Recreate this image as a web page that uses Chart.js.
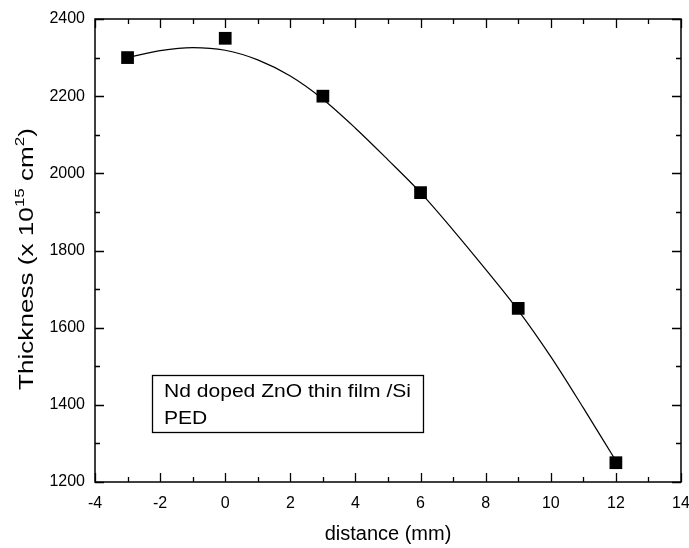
<!DOCTYPE html>
<html>
<head>
<meta charset="utf-8">
<script src="https://cdn.jsdelivr.net/npm/chart.js@4/dist/chart.umd.min.js"></script>
<style>
  html, body { margin: 0; padding: 0; background: #fff; }
</style>
</head>
<body>
<canvas id="chart" width="689" height="548"></canvas>
<script>
// measured points
const distance = [-3, 0, 3, 6, 9, 12];
const thickness = [2300, 2350, 2200, 1950, 1650, 1250];

// fitted curve
const fitDistance = [-3, -2, -1, 0, 1, 2, 3, 4, 5, 6, 7, 8, 9, 10, 11, 12];
const fitThickness = [2300, 2318, 2326, 2319, 2294, 2252, 2192, 2117, 2035, 1950, 1853, 1751, 1645, 1525, 1392, 1255];

const xMin = -4, xMax = 14, xStep = 2;
const yMin = 1200, yMax = 2400, yStep = 200;

const noteLines = ["Nd doped ZnO thin film /Si", "PED"];

const FONT = '"Liberation Sans", Arial, sans-serif';

const framePlugin = {
  id: "frame",
  afterDraw(chart) {
    const { ctx, chartArea: a, scales } = chart;
    const xs = scales.x, ys = scales.y;
    ctx.save();
    ctx.strokeStyle = "#000";
    ctx.lineWidth = 1.5;
    ctx.strokeRect(a.left, a.top, a.right - a.left, a.bottom - a.top);

    // inward ticks on all four sides (major + minor)
    ctx.lineWidth = 1.3;
    ctx.beginPath();
    for (let v = xMin; v <= xMax; v += 1) {
      const px = Math.round(xs.getPixelForValue(v)) + 0.5;
      const len = v % xStep === 0 ? 9 : 5;
      ctx.moveTo(px, a.bottom); ctx.lineTo(px, a.bottom - len);
      ctx.moveTo(px, a.top); ctx.lineTo(px, a.top + len);
    }
    for (let v = yMin; v <= yMax; v += yStep / 2) {
      const py = Math.round(ys.getPixelForValue(v)) + 0.5;
      const len = v % yStep === 0 ? 9 : 5;
      ctx.moveTo(a.left, py); ctx.lineTo(a.left + len, py);
      ctx.moveTo(a.right, py); ctx.lineTo(a.right - len, py);
    }
    ctx.stroke();

    // note box (text is a little wider than tall in the original)
    const sx = 1.17;
    ctx.fillStyle = "#000";
    ctx.font = "18px " + FONT;
    const tw = ctx.measureText(noteLines[0]).width * sx;
    const bx = 152.5, by = 375.5, bw = tw + 24, bh = 57;
    ctx.lineWidth = 1.3;
    ctx.strokeRect(bx, by, bw, bh);
    ctx.save();
    ctx.translate(164, 0);
    ctx.scale(sx, 1);
    ctx.textBaseline = "middle";
    ctx.textAlign = "left";
    noteLines.forEach((t, i) => ctx.fillText(t, 0, 392 + i * 27));
    ctx.restore();

    // y title with superscripts
    ctx.translate(33, 259);
    ctx.rotate(-Math.PI / 2);
    const parts = [
      ["Thickness (x 10", false], ["15", true], [" cm", false], ["2", true], [")", false]
    ];
    const big = "20px " + FONT, small = "13px " + FONT;
    let total = 0;
    parts.forEach(([t, sup]) => { ctx.font = sup ? small : big; total += ctx.measureText(t).width; });
    ctx.scale(262 / total, 1);
    let x = -total / 2;
    ctx.textBaseline = "alphabetic";
    parts.forEach(([t, sup]) => {
      ctx.font = sup ? small : big;
      ctx.fillText(t, x, sup ? -9 : 0);
      x += ctx.measureText(t).width;
    });
    ctx.restore();
  }
};

new Chart(document.getElementById("chart"), {
  type: "scatter",
  data: {
    datasets: [
      {
        label: "fit",
        data: fitDistance.map((d, i) => ({ x: d, y: fitThickness[i] })),
        showLine: true,
        borderColor: "#000",
        borderWidth: 1.2,
        pointRadius: 0,
        cubicInterpolationMode: "monotone",
        order: 2
      },
      {
        label: "data",
        data: distance.map((d, i) => ({ x: d, y: thickness[i] })),
        pointStyle: "rect",
        pointRadius: 9,
        backgroundColor: "#000",
        borderColor: "#000",
        borderWidth: 0,
        order: 1
      }
    ]
  },
  options: {
    responsive: false,
    animation: false,
    layout: { autoPadding: false, padding: { top: 19, right: 8, left: 0, bottom: 0 } },
    plugins: {
      legend: { display: false },
      tooltip: { enabled: false }
    },
    scales: {
      x: {
        type: "linear",
        min: xMin,
        max: xMax,
        afterFit: (s) => { s.height = 66; s.paddingLeft = 0; s.paddingRight = 0; },
        grid: { display: false, drawTicks: false },
        border: { display: false },
        ticks: {
          stepSize: xStep,
          padding: 12,
          color: "#000",
          font: { family: FONT, size: 16 }
        },
        title: {
          display: true,
          text: "distance (mm)",
          color: "#000",
          font: { family: FONT, size: 20 },
          padding: { top: 0, bottom: 2 }
        }
      },
      y: {
        type: "linear",
        min: yMin,
        max: yMax,
        afterFit: (s) => { s.width = 95; s.paddingTop = 0; s.paddingBottom = 0; },
        grid: { display: false, drawTicks: false },
        border: { display: false },
        ticks: {
          stepSize: yStep,
          padding: 10,
          color: "#000",
          font: { family: FONT, size: 16 },
          callback: (v) => String(v)
        }
      }
    }
  },
  plugins: [framePlugin]
});
</script>
</body>
</html>
